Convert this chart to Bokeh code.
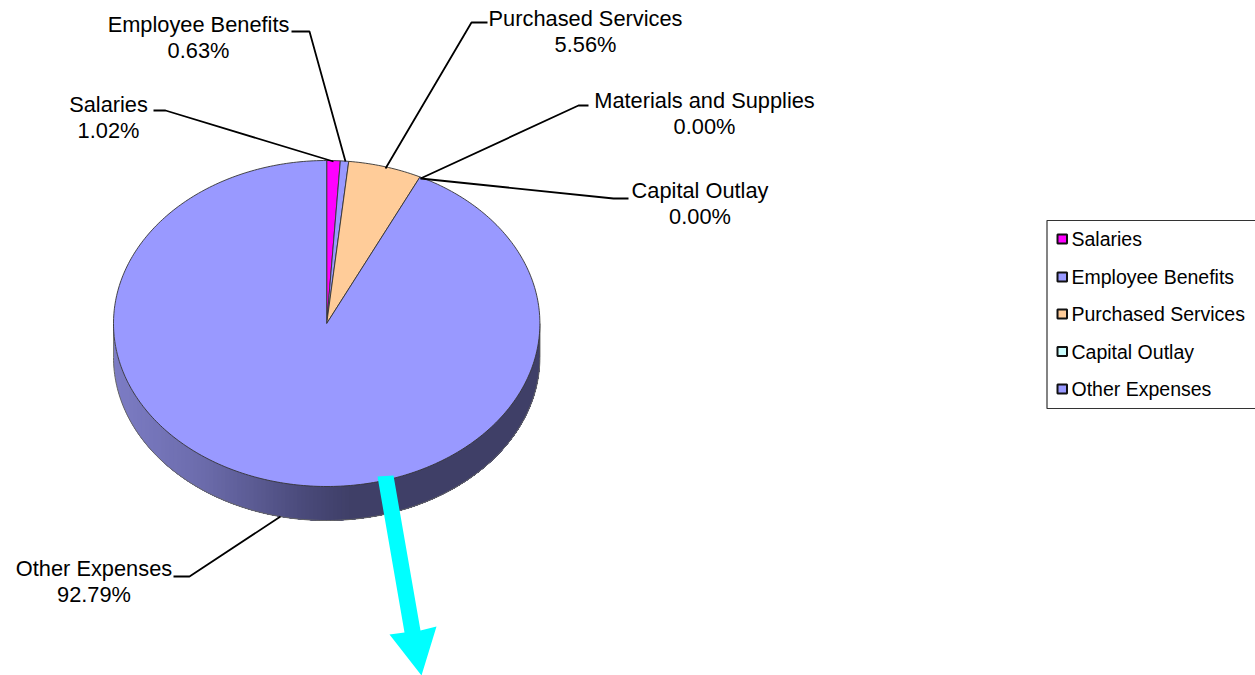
import math
from bokeh.plotting import figure
from bokeh.models import Range1d
from bokeh.core.properties import value
from bokeh.embed import file_html
from bokeh.resources import INLINE

# Expense shares, clockwise from twelve o'clock
categories = ["Salaries", "Employee Benefits", "Purchased Services",
              "Materials and Supplies", "Capital Outlay", "Other Expenses"]
shares = [1.02, 0.63, 5.56, 0.00, 0.00, 92.79]
slice_colors = ["#FF00FF", "#9999FF", "#FFCC99", "#FFFFCC", "#CCFFFF", "#9999FF"]
legend_entries = ["Salaries", "Employee Benefits", "Purchased Services",
                  "Capital Outlay", "Other Expenses"]

# Pie geometry in page pixels
CX, CY, RX, RY, DEPTH = 326.2, 323.0, 213.2, 163.0, 34.0
FONT = "Liberation Sans"
LABEL_PX = "21.8px"
LEGEND_PX = "19.5px"

# Shading of the rim by horizontal position (fraction across the pie, colour)
rim_stops = [(0.00, (124, 124, 196)), (0.20, (108, 108, 172)), (0.33, (90, 90, 146)),
             (0.44, (74, 74, 122)), (0.56, (62, 62, 102))]

# Label centres and leader paths, page pixels
label_layout = {
    "Salaries": ((108, 104), [(153, 110), (165, 110), (333, 161)]),
    "Employee Benefits": ((198, 24), [(291, 31), (309, 31), (345, 161)]),
    "Purchased Services": ((585, 18), [(487, 22), (471, 22), (385, 168)]),
    "Materials and Supplies": ((704, 100), [(588, 105), (578, 105), (420, 178)]),
    "Capital Outlay": ((699.5, 190), [(628, 198), (613, 198), (420, 178)]),
    "Other Expenses": ((93.5, 568), [(173, 576), (189, 576), (280, 516)]),
}
ROW_GAP = 26

p = figure(width=1255, height=675, output_backend="svg", toolbar_location=None,
           x_range=Range1d(0, 1255), y_range=Range1d(675, 0),
           min_border=0, outline_line_color=None, background_fill_color="white")
p.axis.visible = False
p.grid.visible = False


def rim_point(theta, dy=0.0):
    return CX + RX * math.sin(theta), CY - RY * math.cos(theta) + dy


def rim_color(f):
    for (f0, c0), (f1, c1) in zip(rim_stops, rim_stops[1:]):
        if f <= f1:
            t = (f - f0) / (f1 - f0)
            return "#%02x%02x%02x" % tuple(round(a + (b - a) * t) for a, b in zip(c0, c1))
    return "#%02x%02x%02x" % rim_stops[-1][1]


def rim_outline(x_from):
    """Visible rim to the right of x_from, as a closed outline."""
    u = max(-1.0, min(1.0, (x_from - CX) / RX))
    # Angles run clockwise from the top; the front half spans 90 to 270 degrees
    a_end = math.pi - math.asin(u)
    n = 120
    arc = [math.pi / 2 + (a_end - math.pi / 2) * k / n for k in range(n + 1)]
    upper = [rim_point(a) for a in arc]
    lower = [rim_point(a, DEPTH) for a in reversed(arc)]
    pts = upper + lower
    return [q[0] for q in pts], [q[1] for q in pts]


# Rim of the disc, painted left to right so each band lies over the one before it
band_px = 4.0
band_x = CX - RX
last_x = CX - RX + 2 * RX * rim_stops[-1][0]
while band_x < last_x:
    bx, by = rim_outline(band_x)
    p.patch(bx, by, fill_color=rim_color((band_x - (CX - RX)) / (2 * RX)), line_color=None)
    band_x += band_px

# Outline around the rim's lower edge
edge = [rim_point(math.pi / 2 + math.pi * i / 180, DEPTH) for i in range(181)]
p.line([q[0] for q in edge], [q[1] for q in edge], line_color="#666666", line_width=1)
p.line([CX + RX, CX + RX], [CY, CY + DEPTH], line_color="#555555", line_width=1)
p.line([CX - RX, CX - RX], [CY, CY + DEPTH], line_color="#777777", line_width=1)

# Top face: one wedge per non-empty share
total = sum(shares)
start = 0.0
for share, col in zip(shares, slice_colors):
    sweep = 2 * math.pi * share / total
    if share > 0:
        n = max(3, int(share * 4))
        arc = [rim_point(start + sweep * k / n) for k in range(n + 1)]
        wx = [CX] + [q[0] for q in arc]
        wy = [CY] + [q[1] for q in arc]
        p.patch(wx, wy, fill_color=col, line_color="#333333", line_width=0.9, line_join="round")
    start += sweep

# Leader lines and two-row labels
for name, share in zip(categories, shares):
    (lx, ly), path = label_layout[name]
    p.line([q[0] for q in path], [q[1] for q in path], line_color="black", line_width=1.8)
    p.text([lx, lx], [ly, ly + ROW_GAP], text=[name, f"{share:.2f}%"],
           text_font=value(FONT), text_font_size=LABEL_PX, text_color="black",
           text_align="center", text_baseline="middle")

# Cyan callout arrow leaving the large slice
arrow = [(377, 476), (393, 475), (420, 630), (436, 626), (421, 675), (389, 634), (404, 632)]
p.patch([q[0] for q in arrow], [q[1] for q in arrow], fill_color="#00FFFF", line_color=None)

# Legend
p.quad(left=[1046.5], right=[1260], top=[220], bottom=[408],
       fill_color="white", line_color="#333333", line_width=1.2)
row_y = [238.5, 276.5, 313.5, 351, 388.5]
legend_colors = [slice_colors[categories.index(n)] for n in legend_entries]
p.quad(left=[1057] * 5, right=[1066.5] * 5,
       top=[y - 4.5 for y in row_y], bottom=[y + 4.5 for y in row_y],
       fill_color=legend_colors, line_color="#111111", line_width=2)
p.text([1071] * 5, row_y, text=legend_entries, text_font=value(FONT), text_font_size=LEGEND_PX,
       text_color="black", text_align="left", text_baseline="middle")

open("out.html", "w").write(file_html(p, INLINE))
